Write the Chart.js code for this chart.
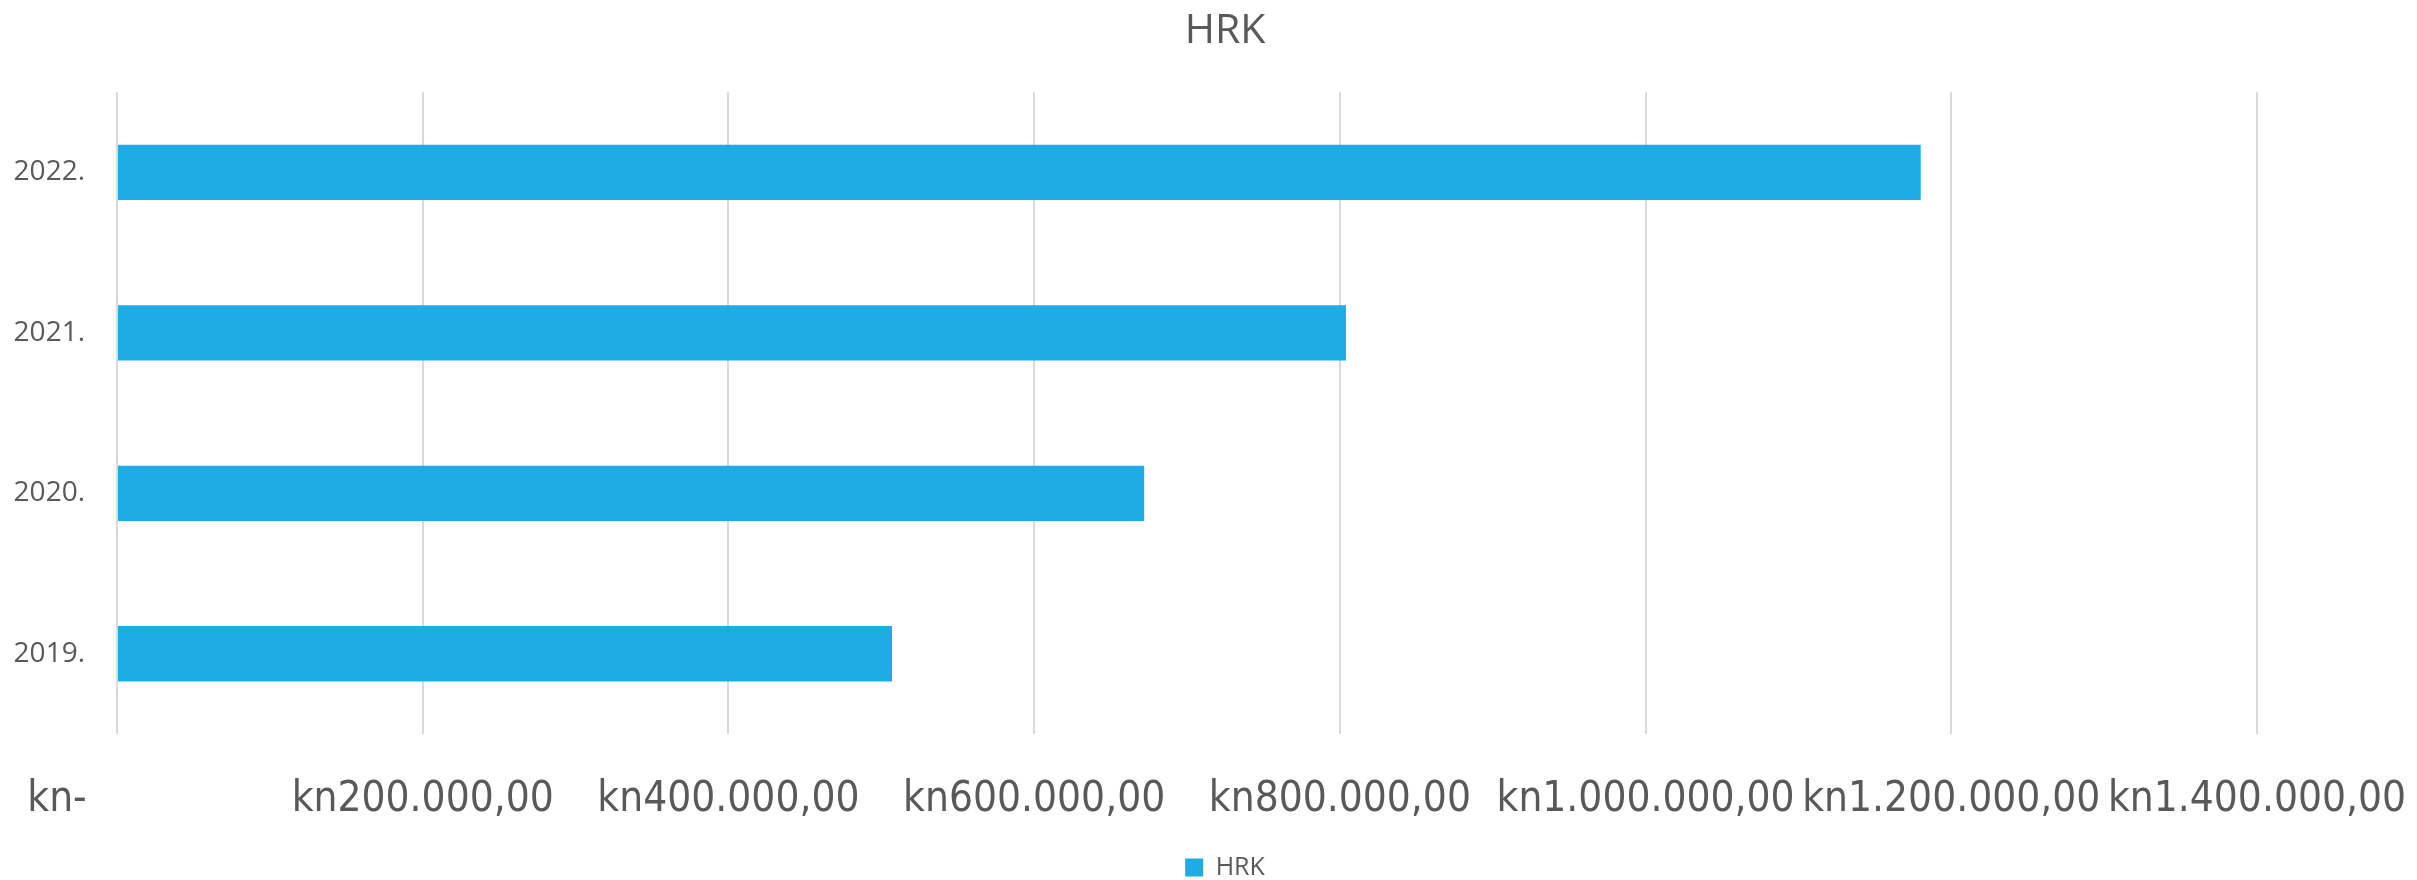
<!DOCTYPE html>
<html>
<head>
<meta charset="utf-8">
<title>HRK</title>
<script src="https://cdn.jsdelivr.net/npm/chart.js@4/dist/chart.umd.min.js"></script>
<style>
  html, body { margin: 0; padding: 0; background: #fff; }
  #wrap { width: 2417px; height: 880px; }
</style>
</head>
<body>
<div id="wrap"><canvas id="grafico" width="2417" height="880"></canvas></div>
<script>
// datos
const godine = ['2019.', '2020.', '2021.', '2022.'];
const iznosiHRK = [507000, 672000, 804000, 1180000];
const xTickLabels = ['kn-\u00a0\u00a0\u00a0\u00a0\u00a0\u00a0\u00a0\u00a0\u00a0\u00a0', 'kn200.000,00', 'kn400.000,00', 'kn600.000,00',
  'kn800.000,00', 'kn1.000.000,00', 'kn1.200.000,00', 'kn1.400.000,00'];

const gris = '#595959';

const ctx = document.getElementById('grafico').getContext('2d');
new Chart(ctx, {
  type: 'bar',
  data: {
    labels: godine,
    datasets: [{
      label: 'HRK',
      data: iznosiHRK,
      backgroundColor: '#1fabe3',
      borderWidth: 0,
      categoryPercentage: 1,
      barPercentage: 0.345
    }]
  },
  options: {
    indexAxis: 'y',
    responsive: false,
    animation: false,
    // derecha negativa para centrar titulo y leyenda como en el original
    layout: { padding: { left: 0, right: -33, top: 0, bottom: -10 } },
    plugins: {
      title: {
        display: true,
        text: 'HRK',
        color: gris,
        font: { family: 'Open Sans', size: 41, weight: 'normal', lineHeight: 1.2 },
        padding: { top: 7, bottom: 36 }
      },
      legend: {
        position: 'bottom',
        labels: {
          color: gris,
          boxWidth: 18,
          boxHeight: 18,
          padding: 0,
          font: { family: 'Open Sans', size: 25 }
        }
      },
      tooltip: { enabled: false }
    },
    scales: {
      x: {
        min: 0,
        max: 1400000,
        ticks: {
          stepSize: 200000,
          autoSkip: false,
          maxRotation: 0,
          minRotation: 0,
          padding: 45,
          color: gris,
          font: { family: "'DejaVu Sans Condensed', sans-serif", size: 42, lineHeight: 1 },
          callback: (v, i) => xTickLabels[i]
        },
        grid: { color: '#d9d9d9', lineWidth: 2, drawTicks: false },
        border: { display: false },
        afterFit: scale => {
          scale.height = 121;
          scale.paddingLeft = 0;
          scale.paddingRight = 160;
        }
      },
      y: {
        reverse: true,
        ticks: {
          padding: 24,
          color: gris,
          font: { family: 'Open Sans', size: 28 }
        },
        grid: { display: false },
        border: { display: false },
        afterFit: scale => { scale.width = 117; }
      }
    }
  }
});
</script>
</body>
</html>
